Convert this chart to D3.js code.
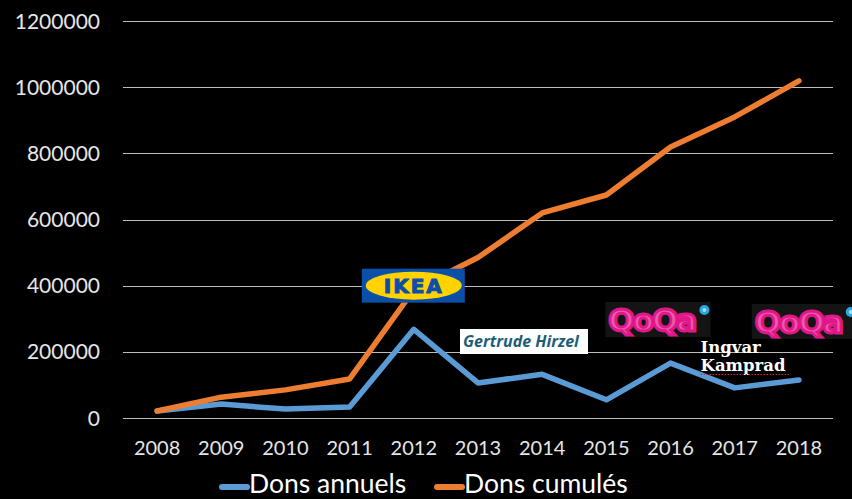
<!DOCTYPE html>
<html>
<head>
<meta charset="utf-8">
<script src="https://cdn.jsdelivr.net/npm/d3@7"></script>
<style>
  html, body { margin: 0; padding: 0; background: #000; }
  svg { display: block; }
</style>
</head>
<body>
<svg id="chart"></svg>
<script>
// donnees
const years = ["2008", "2009", "2010", "2011", "2012", "2013", "2014", "2015", "2016", "2017", "2018"];
const donsAnnuels = [21000, 42000, 27000, 33000, 268000, 106000, 132000, 55000, 166000, 91000, 115000];
const donsCumules = [21000, 63000, 85000, 118000, 387000, 485000, 620000, 674000, 819000, 910000, 1019000];
const yTicks = [0, 200000, 400000, 600000, 800000, 1000000, 1200000];
const seriesNames = ["Dons annuels", "Dons cumulés"];
const seriesColors = ["#5b9bd5", "#ed7d31"];

const width = 852, height = 499;
const svg = d3.select("#chart").attr("width", width).attr("height", height);
svg.append("rect").attr("width", width).attr("height", height).attr("fill", "#000");

const x = d3.scaleBand().domain(years).range([125, 831]);
const y = d3.scaleLinear().domain([0, 1200000]).range([418, 21]);
const cx = d => x(d) + x.bandwidth() / 2;

// grille
svg.append("g").selectAll("line")
  .data(yTicks)
  .join("line")
  .attr("x1", 123).attr("x2", 833)
  .attr("y1", d => Math.round(y(d)) + 0.5).attr("y2", d => Math.round(y(d)) + 0.5)
  .attr("stroke", "#bdbdbd").attr("stroke-width", 1);

// axe Y
svg.append("g").selectAll("text")
  .data(yTicks)
  .join("text")
  .attr("x", 100).attr("y", d => y(d) + 7.5)
  .attr("text-anchor", "end")
  .attr("fill", "#e6e6e6")
  .attr("font-family", "Lato")
  .attr("font-size", 21)
  .text(d => d);

// axe X
svg.append("g").selectAll("text")
  .data(years)
  .join("text")
  .attr("x", d => cx(d)).attr("y", 455)
  .attr("text-anchor", "middle")
  .attr("fill", "#e6e6e6")
  .attr("font-family", "Lato")
  .attr("font-size", 20)
  .text(d => d);

// courbes
const line = d3.line().x((d, i) => cx(years[i])).y(d => y(d));
[donsAnnuels, donsCumules].forEach((serie, k) => {
  svg.append("path")
    .datum(serie)
    .attr("d", line)
    .attr("fill", "none")
    .attr("stroke", seriesColors[k])
    .attr("stroke-width", 5.5)
    .attr("stroke-linejoin", "round")
    .attr("stroke-linecap", "round");
});

// logo IKEA
const ik = svg.append("g").attr("transform", `translate(${cx("2012")},${y(400000)})`);
ik.append("rect").attr("x", -52).attr("y", -17).attr("width", 103).attr("height", 34).attr("fill", "#0a4fa8");
ik.append("ellipse").attr("rx", 48).attr("ry", 14).attr("fill", "#ffd200");
ik.append("text").attr("y", 7.5).attr("text-anchor", "middle")
  .attr("font-family", "DejaVu Sans").attr("font-weight", "bold").attr("font-size", 20)
  .attr("letter-spacing", 2).attr("fill", "#0a4fa8")
  .attr("stroke", "#0a4fa8").attr("stroke-width", 1)
  .text("IKEA");

// Gertrude Hirzel
const gh = svg.append("g").attr("transform", `translate(${cx("2013") - 18},329)`);
gh.append("rect").attr("width", 128).attr("height", 25).attr("fill", "#fff");
gh.append("text").attr("x", 3).attr("y", 18)
  .attr("font-family", "Open Sans").attr("font-style", "italic").attr("font-weight", "bold")
  .attr("font-size", 16).attr("fill", "#1d5e78")
  .text("Gertrude Hirzel");

// logos QoQa
function qoqa(x0, y0, w) {
  const g = svg.append("g").attr("transform", `translate(${x0},${y0})`);
  g.append("rect").attr("width", w).attr("height", 35).attr("fill", "#141414");
  g.append("text").attr("x", 3).attr("y", 29)
    .attr("font-family", "DejaVu Sans").attr("font-weight", "bold").attr("font-size", 31)
    .attr("letter-spacing", -2)
    .attr("fill", "#ec5aa8").attr("stroke", "#e0168a").attr("stroke-width", 3)
    .attr("paint-order", "fill")
    .text("QoQa");
  g.append("circle").attr("cx", 99).attr("cy", 8).attr("r", 5).attr("fill", "#2aa7df");
  g.append("circle").attr("cx", 99).attr("cy", 8).attr("r", 2).attr("fill", "#9fdcf5");
}
qoqa(cx("2015") - 1, 302, 105);
qoqa(cx("2017") + 17, 304, 110);

// Ingvar Kamprad
const ingvar = svg.append("g").attr("transform", `translate(${cx("2016") + 30},0)`);
ingvar.append("text").attr("y", 353).attr("font-family", "DejaVu Serif").attr("font-weight", "bold")
  .attr("font-size", 16.5).attr("fill", "#fff").text("Ingvar");
ingvar.append("text").attr("y", 371).attr("font-family", "DejaVu Serif").attr("font-weight", "bold")
  .attr("font-size", 16.5).attr("fill", "#fff").text("Kamprad");
ingvar.append("line").attr("x1", 0).attr("x2", 89).attr("y1", 374.5).attr("y2", 374.5)
  .attr("stroke", "#d22").attr("stroke-width", 1).attr("stroke-dasharray", "1.5,1.5");

// legende
const legendX = [222, 437];
const leg = svg.append("g").selectAll("g")
  .data(seriesNames)
  .join("g")
  .attr("transform", (d, i) => `translate(${legendX[i]},487)`);
leg.append("line").attr("x1", 0).attr("x2", 25)
  .attr("stroke", (d, i) => seriesColors[i]).attr("stroke-width", 6).attr("stroke-linecap", "round");
leg.append("text").attr("x", 27).attr("y", 6)
  .attr("font-family", "Lato").attr("font-size", 26.5).attr("fill", "#fff")
  .text(d => d);
</script>
</body>
</html>
